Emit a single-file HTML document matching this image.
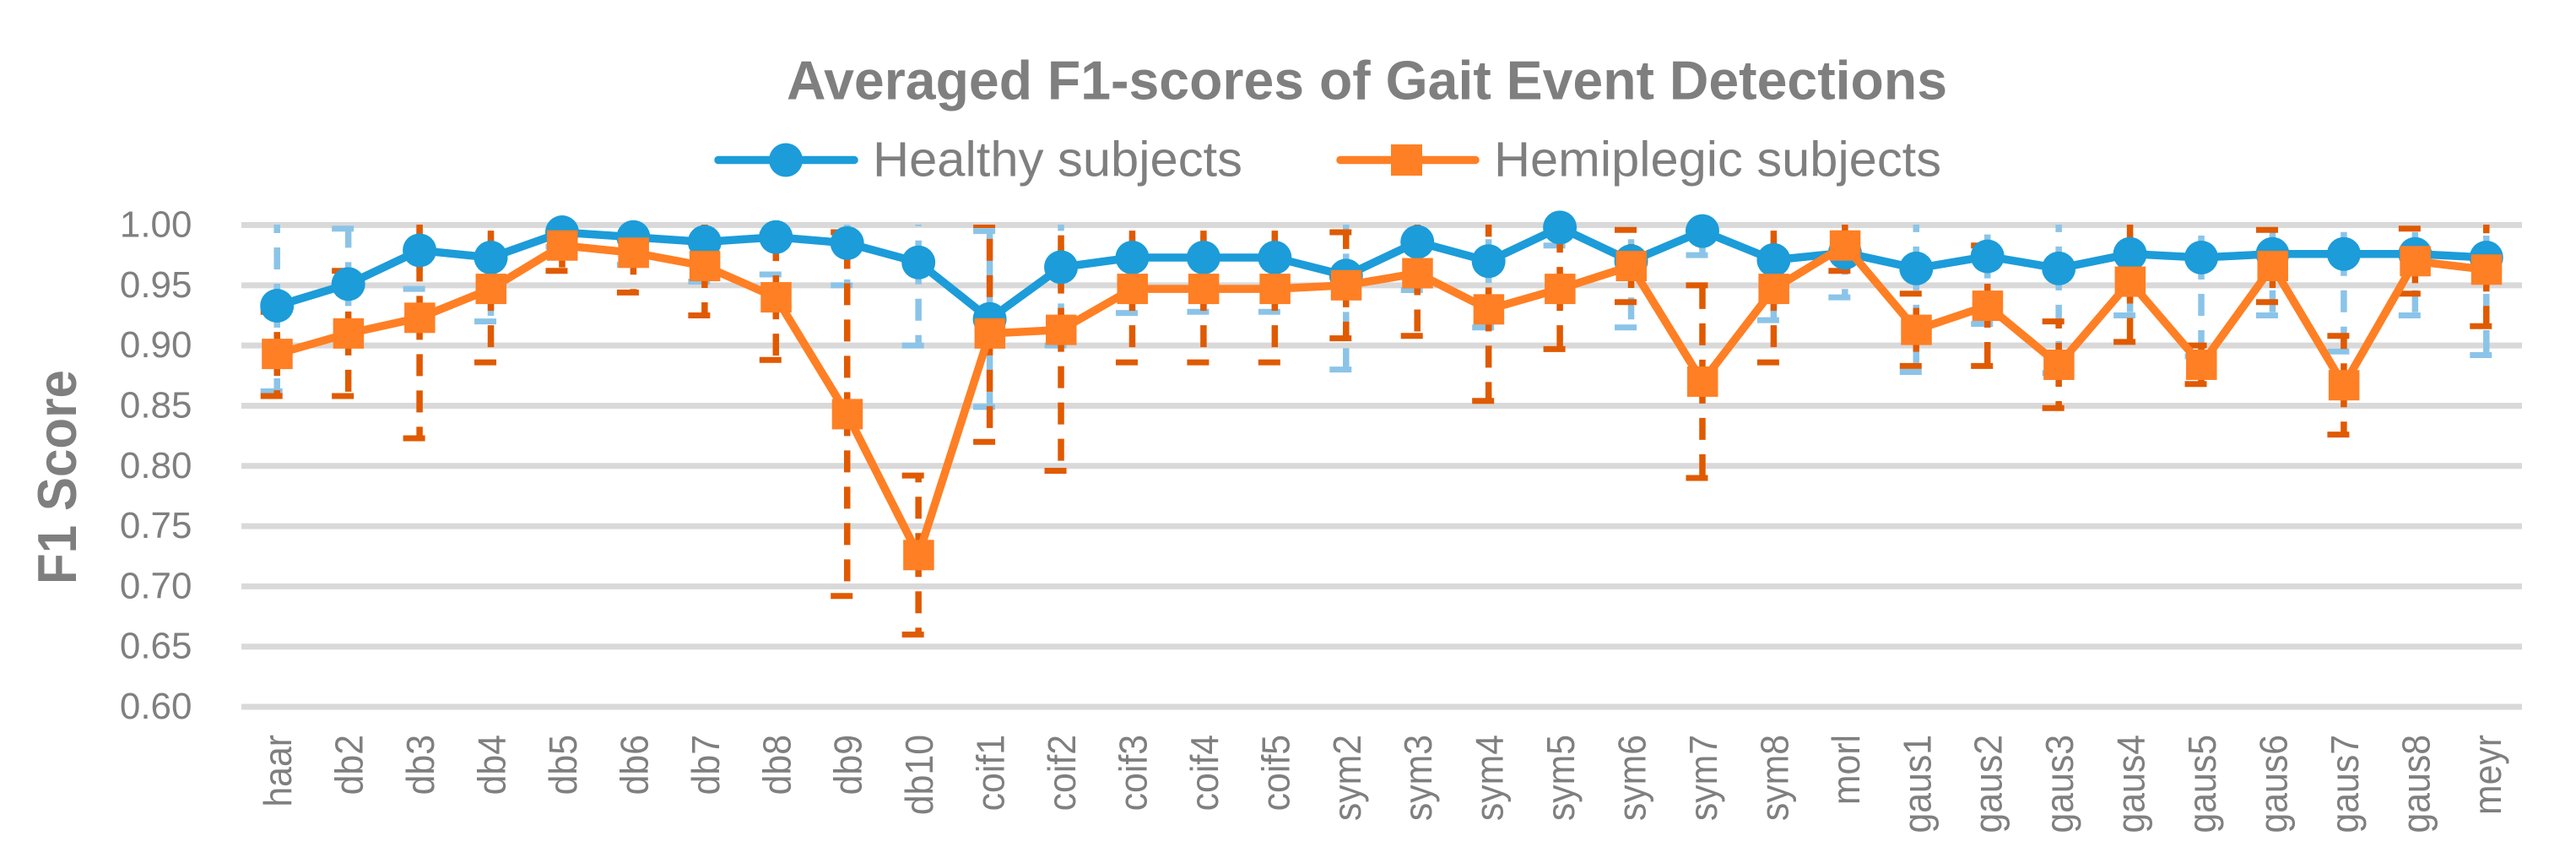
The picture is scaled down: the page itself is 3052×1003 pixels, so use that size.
<!DOCTYPE html>
<html lang="en">
<head>
<meta charset="utf-8">
<title>Averaged F1-scores of Gait Event Detections</title>
<style>
html,body{margin:0;padding:0;background:#fff;}
svg{display:block;}
text{font-family:"Liberation Sans",sans-serif;fill:#7f7f7f;}
</style>
</head>
<body>
<svg id="chart" xmlns="http://www.w3.org/2000/svg" width="3052" height="1003" viewBox="0 0 3052 1003">
  <rect width="3052" height="1003" fill="#ffffff"/>
  <text x="932" y="117.5" font-size="65" font-weight="700" textLength="1375" lengthAdjust="spacingAndGlyphs">Averaged F1-scores of Gait Event Detections</text>
  <g>
    <line x1="851" y1="189.5" x2="1012" y2="189.5" stroke="#1c9cd9" stroke-width="9.5" stroke-linecap="round"/>
    <circle cx="931" cy="189.5" r="20" fill="#1c9cd9"/>
    <text x="1034" y="208.5" font-size="58" textLength="438" lengthAdjust="spacingAndGlyphs">Healthy subjects</text>
  </g>
  <g>
    <line x1="1588" y1="189.5" x2="1748" y2="189.5" stroke="#ff7f24" stroke-width="9.5" stroke-linecap="round"/>
    <rect x="1648" y="171" width="37" height="37" fill="#ff7f24"/>
    <text x="1770" y="208.5" font-size="58" textLength="530" lengthAdjust="spacingAndGlyphs">Hemiplegic subjects</text>
  </g>
  <text transform="translate(90,692) rotate(-90)" font-size="65" font-weight="700" textLength="254" lengthAdjust="spacingAndGlyphs">F1 Score</text>
  <defs>
    <clipPath id="plot-clip"><rect x="286" y="266" width="2702" height="640"/></clipPath>
  </defs>
  <g id="grid"></g>
  <g id="yticks"></g>
  <g id="xticks"></g>
  <g id="err-healthy" clip-path="url(#plot-clip)"></g>
  <g id="err-hemi" clip-path="url(#plot-clip)"></g>
  <g id="series-healthy"></g>
  <g id="series-hemi"></g>
</svg>
<script>
var categories = ["haar","db2","db3","db4","db5","db6","db7","db8","db9","db10","coif1","coif2","coif3","coif4","coif5","sym2","sym3","sym4","sym5","sym6","sym7","sym8","morl","gaus1","gaus2","gaus3","gaus4","gaus5","gaus6","gaus7","gaus8","meyr"];
var yTicks = [1.00,0.95,0.90,0.85,0.80,0.75,0.70,0.65,0.60];
var healthyMean = [.933,.951,.979,.973,.994,.990,.986,.990,.985,.969,.922,.965,.973,.973,.973,.958,.986,.970,.998,.970,.995,.971,.977,.964,.974,.964,.976,.973,.976,.976,.976,.973];
var healthyErr = [.071,.046,.032,.053,.012,.023,.033,.031,.035,.069,.073,.065,.046,.045,.045,.078,.040,.055,.015,.055,.020,.050,.037,.086,.056,.087,.051,.082,.051,.081,.051,.081];
var hemiMean = [.893,.910,.923,.947,.983,.977,.966,.940,.843,.726,.910,.913,.947,.947,.947,.950,.960,.930,.947,.966,.870,.947,.983,.913,.933,.884,.953,.884,.966,.867,.970,.963];
var hemiErr = [.035,.052,.100,.061,.021,.033,.041,.052,.151,.066,.090,.117,.061,.061,.061,.044,.052,.076,.050,.030,.080,.061,.021,.030,.050,.036,.050,.016,.030,.041,.027,.047];

var NS = "http://www.w3.org/2000/svg";
var plotLeft = 286, plotRight = 2988, yTop = 266.5, yBottom = 837;
var yMax = 1.0, yMin = 0.6;
function xPos(i){ return plotLeft + (plotRight - plotLeft) * (i + 0.5) / categories.length; }
function yPos(v){ return yTop + (yMax - v) / (yMax - yMin) * (yBottom - yTop); }
function mk(tag, attrs, parent){
  var el = document.createElementNS(NS, tag);
  for (var k in attrs) el.setAttribute(k, attrs[k]);
  parent.appendChild(el);
  return el;
}
var gridG = document.getElementById("grid");
var yG = document.getElementById("yticks");
yTicks.forEach(function(t){
  var y = yPos(t);
  var g = mk("line", {x1:plotLeft, x2:plotRight, y1:y, y2:y, stroke:"#d9d9d9", "stroke-width":7}, gridG);
  
  
  var lb = mk("text", {x:227.5, y:y+14, "font-size":44, "text-anchor":"end"}, yG);
  lb.textContent = t.toFixed(2);
  
  
});
var xG = document.getElementById("xticks");
categories.forEach(function(c, i){
  var lb = mk("text", {transform:"translate(" + (xPos(i)+17) + ",870) rotate(-90) scale(.93,1)", "font-size":46, "text-anchor":"end"}, xG);
  lb.textContent = c;
  
  
});
function drawErr(parent, means, errs, color){
  means.forEach(function(m, i){
    var x = xPos(i), ym = yPos(m);
    [yPos(m + errs[i]), yPos(m - errs[i])].forEach(function(ye){
      var stem = mk("line", {x1:x, x2:x, y1:ym, y2:ye, stroke:color, "stroke-width":7.5, "stroke-dasharray":"26 17"}, parent);
      
      
      var cap = mk("line", {x1:x-19.5, x2:x+19.5, y1:ye, y2:ye, stroke:color, "stroke-width":7, "stroke-dasharray":"26 17"}, parent);
      
      
    });
  });
}
drawErr(document.getElementById("err-healthy"), healthyMean, healthyErr, "#8bc4e8");
drawErr(document.getElementById("err-hemi"), hemiMean, hemiErr, "#e05a00");
function pointsOf(arr){
  return arr.map(function(v, i){ return xPos(i).toFixed(1) + "," + yPos(v).toFixed(1); }).join(" ");
}
var sH = document.getElementById("series-healthy");
var lineH = mk("polyline", {points:pointsOf(healthyMean), fill:"none", stroke:"#1c9cd9", "stroke-width":9.5, "stroke-linejoin":"round"}, sH);


healthyMean.forEach(function(v, i){
  var p = mk("circle", {cx:xPos(i), cy:yPos(v), r:20, fill:"#1c9cd9"}, sH);
  
  
});
var sM = document.getElementById("series-hemi");
var lineM = mk("polyline", {points:pointsOf(hemiMean), fill:"none", stroke:"#ff7f24", "stroke-width":9.5, "stroke-linejoin":"round"}, sM);


hemiMean.forEach(function(v, i){
  var p = mk("rect", {x:xPos(i)-18, y:yPos(v)-18, width:36.5, height:36, fill:"#ff7f24"}, sM);
  
  
});
</script>
</body>
</html>
